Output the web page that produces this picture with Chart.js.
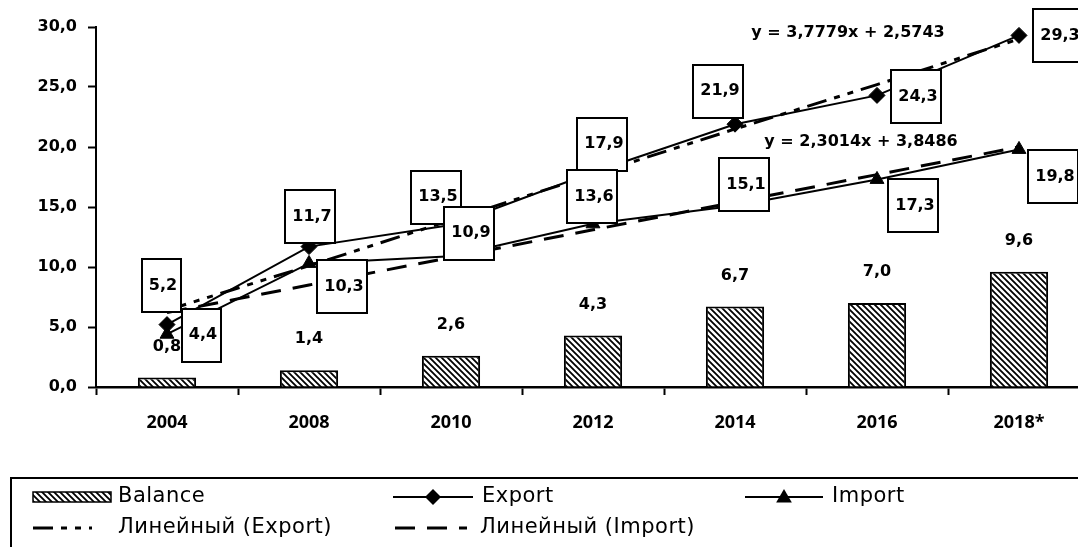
<!DOCTYPE html>
<html><head><meta charset="utf-8">
<script src="https://cdn.jsdelivr.net/npm/chart.js@4/dist/chart.umd.min.js"></script>
<style>
html,body{margin:0;padding:0;background:#fff;overflow:hidden;}
#wrap{width:1078px;height:547px;overflow:hidden;position:relative;background:#fff;}
canvas{display:block;}
</style></head><body>
<div id="wrap"><canvas id="c" width="1100" height="570"></canvas></div>
<script>
// ---- data ----
const categories = ['2004', '2008', '2010', '2012', '2014', '2016', '2018*'];
const balanceValues = [0.8, 1.4, 2.6, 4.3, 6.7, 7.0, 9.6];
const exportValues = [5.2, 11.7, 13.5, 17.9, 21.9, 24.3, 29.3];
const importValues = [4.4, 10.3, 10.9, 13.6, 15.1, 17.3, 19.8];
const exportTrendValues = [6.4, 10.1, 13.9, 17.7, 21.5, 25.2, 29.0];
const importTrendValues = [6.2, 8.5, 10.8, 13.1, 15.4, 17.7, 20.0];
const yTickValues = [0, 5, 10, 15, 20, 25, 30];
const trendEquations = ['y = 3,7779x + 2,5743', 'y = 2,3014x + 3,8486'];
const seriesNames = ['Balance', 'Export', 'Import', 'Линейный (Export)', 'Линейный (Import)'];

// ---- layout / style (not data) ----
const exportLabelOffsets = [[-6,-39],[1,-30],[-15,-28],[9,-28],[-17,-33],[39,1],[39,0]];
const importLabelOffsets = [[34,1],[33,23],[18,-23],[-1,-27],[9,-21],[36,26],[34,27]];
const equationPositions = [[848,33],[861,142]];
const NUM_FONT = 'bold 16px "DejaVu Sans", sans-serif';
const fmt = v => v.toFixed(1).replace('.', ',');

const canvas = document.getElementById('c');
const ctx = canvas.getContext('2d');

function makeHatch() {
  const p = document.createElement('canvas');
  p.width = 6; p.height = 6;
  const g = p.getContext('2d');
  g.fillStyle = '#fff'; g.fillRect(0, 0, 6, 6);
  g.strokeStyle = '#000'; g.lineWidth = 1.8;
  g.beginPath();
  g.moveTo(-1, -1); g.lineTo(7, 7);
  g.moveTo(-1, 5); g.lineTo(1, 7);
  g.moveTo(5, -1); g.lineTo(7, 1);
  g.stroke();
  return ctx.createPattern(p, 'repeat');
}
const hatch = makeHatch();

const EXPORT_TREND_DASH = [20, 8, 6, 8, 6, 8];
const IMPORT_TREND_DASH = [20, 12];

const labelPlugin = {
  id: 'labels',
  afterDatasetsDraw(chart) {
    const c = chart.ctx;
    c.save();
    c.font = NUM_FONT;
    c.fillStyle = '#000';
    c.textAlign = 'center';
    c.textBaseline = 'middle';
    const bm = chart.getDatasetMeta(0);
    bm.data.forEach((bar, i) => {
      c.fillText(fmt(balanceValues[i]), bar.x, bar.y - 31);
    });
    trendEquations.forEach((t, i) => {
      c.fillText(t, equationPositions[i][0], equationPositions[i][1]);
    });
    const drawBoxes = (dsIndex, values, offsets) => {
      const meta = chart.getDatasetMeta(dsIndex);
      meta.data.forEach((pt, i) => {
        const txt = fmt(values[i]);
        const w = Math.round(c.measureText(txt).width) + 11;
        const h = 53;
        const cx = pt.x + offsets[i][0];
        const cy = pt.y + offsets[i][1];
        const x0 = Math.round(cx - w / 2), y0 = Math.round(cy - h / 2);
        c.fillStyle = '#fff';
        c.fillRect(x0, y0, w, h);
        c.lineWidth = 2;
        c.strokeStyle = '#000';
        c.strokeRect(x0, y0, w, h);
        c.fillStyle = '#000';
        c.fillText(txt, cx + 2, cy);
      });
    };
    drawBoxes(1, exportValues, exportLabelOffsets);
    drawBoxes(2, importValues, importLabelOffsets);
    c.restore();
  }
};

function drawMarker(c, style, x, y, r) {
  c.beginPath();
  if (style === 'diamond') {
    c.moveTo(x, y - r); c.lineTo(x + r, y); c.lineTo(x, y + r); c.lineTo(x - r, y);
  } else {
    c.moveTo(x, y - r); c.lineTo(x + r * 0.87, y + r * 0.5); c.lineTo(x - r * 0.87, y + r * 0.5);
  }
  c.closePath();
  c.fill();
}

const legendPlugin = {
  id: 'boxLegend',
  afterDraw(chart) {
    const c = chart.ctx;
    c.save();
    c.lineWidth = 2;
    c.strokeStyle = '#000';
    c.strokeRect(11, 478, 1100, 110);
    const r1 = 497, r2 = 528;
    c.fillStyle = hatch;
    c.fillRect(33, r1 - 5, 78, 10);
    c.lineWidth = 1.5;
    c.strokeRect(33, r1 - 5, 78, 10);
    c.fillStyle = '#000';
    c.lineWidth = 2;
    c.beginPath(); c.moveTo(393, r1); c.lineTo(473, r1); c.stroke();
    drawMarker(c, 'diamond', 433, r1, 8);
    c.beginPath(); c.moveTo(745, r1); c.lineTo(823, r1); c.stroke();
    drawMarker(c, 'triangle', 784, r1 + 1, 9);
    c.lineWidth = 3;
    c.setLineDash(EXPORT_TREND_DASH);
    c.beginPath(); c.moveTo(33, r2); c.lineTo(92, r2); c.stroke();
    c.setLineDash(IMPORT_TREND_DASH);
    c.beginPath(); c.moveTo(395, r2); c.lineTo(467, r2); c.stroke();
    c.setLineDash([]);
    c.font = '21px "DejaVu Sans", sans-serif';
    try { c.letterSpacing = '0.5px'; } catch (e) {}
    c.textAlign = 'left';
    c.textBaseline = 'middle';
    c.fillText(seriesNames[0], 118, r1);
    c.fillText(seriesNames[1], 482, r1);
    c.fillText(seriesNames[2], 832, r1);
    c.fillText(seriesNames[3], 118, r2);
    c.fillText(seriesNames[4], 480, r2);
    c.restore();
  }
};

new Chart(ctx, {
  data: {
    labels: categories,
    datasets: [
      {
        type: 'bar', label: seriesNames[0], data: balanceValues,
        backgroundColor: hatch, borderColor: '#000', borderWidth: 2,
        barPercentage: 0.41, categoryPercentage: 1, order: 10
      },
      {
        type: 'line', label: seriesNames[1], data: exportValues,
        borderColor: '#000', borderWidth: 2, tension: 0,
        pointStyle: 'rectRot', pointRadius: 8, pointBackgroundColor: '#000', pointBorderColor: '#000', pointBorderWidth: 1,
        order: 5
      },
      {
        type: 'line', label: seriesNames[2], data: importValues,
        borderColor: '#000', borderWidth: 2, tension: 0,
        pointStyle: 'triangle', pointRadius: 8, pointBackgroundColor: '#000', pointBorderColor: '#000', pointBorderWidth: 1,
        order: 4
      },
      {
        type: 'line', label: seriesNames[3], data: exportTrendValues,
        borderColor: '#000', borderWidth: 3, borderDash: EXPORT_TREND_DASH, pointRadius: 0, tension: 0,
        order: 2
      },
      {
        type: 'line', label: seriesNames[4], data: importTrendValues,
        borderColor: '#000', borderWidth: 3, borderDash: IMPORT_TREND_DASH, pointRadius: 0, tension: 0,
        order: 1
      }
    ]
  },
  options: {
    responsive: false,
    animation: false,
    devicePixelRatio: 1,
    layout: { padding: { left: 0, top: 27, right: 10, bottom: 0 } },
    plugins: { legend: { display: false }, tooltip: { enabled: false } },
    scales: {
      x: {
        type: 'category',
        offset: true,
        grid: { display: true, drawOnChartArea: false, drawTicks: true, tickLength: 8, tickColor: '#000', tickWidth: 2, offset: true },
        border: { display: true, color: '#000', width: 2.5 },
        ticks: { color: '#000', font: { family: '"Open Sans", sans-serif', weight: 'bold', size: 18 }, padding: 17, maxRotation: 0, autoSkip: false },
        afterFit(s) { s.height = 570 - 387; }
      },
      y: {
        min: 0, max: 30,
        afterBuildTicks(s) { s.ticks = yTickValues.map(v => ({ value: v })); },
        grid: { display: true, drawOnChartArea: false, drawTicks: true, tickLength: 8, tickColor: '#000', tickWidth: 2 },
        border: { display: true, color: '#000', width: 2 },
        ticks: {
          color: '#000', padding: 11,
          font: { family: '"DejaVu Sans", sans-serif', weight: 'bold', size: 16 },
          callback: v => fmt(v)
        },
        afterFit(s) { s.width = 96; }
      }
    }
  },
  plugins: [labelPlugin, legendPlugin]
});
</script>
</body></html>
